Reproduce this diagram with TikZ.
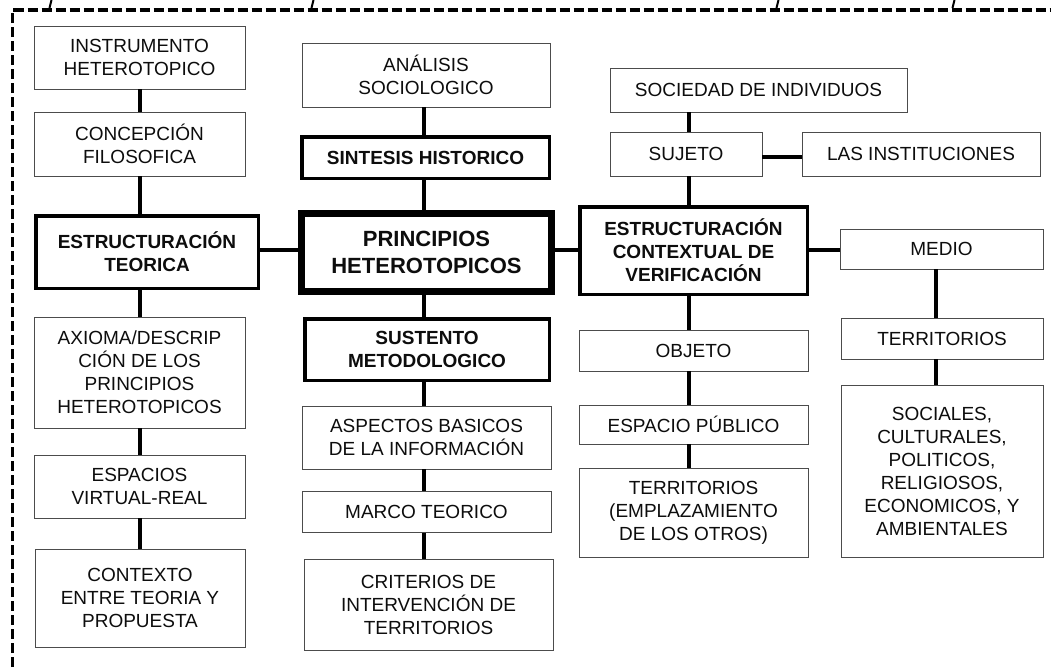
\documentclass[tikz,border=0pt]{standalone}
\usepackage{fontspec}
\setmainfont{Liberation Sans}
\begin{document}
\begin{tikzpicture}[x=1pt,y=-1pt,
  plainbox/.style={draw=black!70, line width=0.9pt, fill=white, inner sep=0pt, align=center,
    text=black!95, font=\fontsize{19}{23}\selectfont},
  boldbox/.style={draw=black, line width=3.5pt, fill=white, inner sep=0pt, align=center,
    text=black!95, font=\fontsize{19}{23}\selectfont\bfseries},
  mainbox/.style={draw=black, line width=7pt, fill=white, inner sep=0pt, align=center,
    text=black!95, font=\fontsize{22}{27}\selectfont\bfseries},
  conn/.style={draw=black, line width=4.5pt},
  frame/.style={draw=black, line width=3.5pt, dash pattern=on 10pt off 4pt},
  tick/.style={draw=black, line width=2pt}]
\useasboundingbox (0,0) rectangle (1051,667);
\fill[white] (0,0) rectangle (1051,667);
% frame
\draw[frame] (12.5,667) -- (12.5,10) -- (1051,10);
\draw[tick] (51.5,0) -- (49.5,8);
\draw[tick] (313.5,0) -- (311.5,8);
\draw[tick] (778.5,0) -- (776.5,8);
\draw[tick] (954.5,0) -- (952.5,8);
% helper coordinates
\coordinate (xl) at (140,0);
\coordinate (xm) at (424,0);
\coordinate (xc) at (689,0);
\coordinate (xr) at (936,0);
\coordinate (yh) at (0,250);
\coordinate (ys) at (0,157);
% left column
\node[plainbox, minimum width=211, minimum height=63] (inst) at (139.5,57.5) {INSTRUMENTO\\HETEROTOPICO};
\node[plainbox, minimum width=211, minimum height=64] (conc) at (139.5,144) {CONCEPCIÓN\\FILOSOFICA};
\node[boldbox, minimum width=222.5, minimum height=72.5] (estT) at (147,252) {ESTRUCTURACIÓN\\TEORICA};
\node[plainbox, minimum width=211, minimum height=111] (axioma) at (139.5,372.5) {AXIOMA/DESCRIP\\CIÓN DE LOS\\PRINCIPIOS\\HETEROTOPICOS};
\node[plainbox, minimum width=211, minimum height=63] (espacios) at (139.5,486.5) {ESPACIOS\\VIRTUAL-REAL};
\node[plainbox, minimum width=210, minimum height=98] (contexto) at (140,598) {CONTEXTO\\ENTRE TEORIA Y\\PROPUESTA};
% middle column
\node[plainbox, minimum width=248, minimum height=64] (analisis) at (426,75) {ANÁLISIS\\SOCIOLOGICO};
\node[boldbox, minimum width=247.5, minimum height=41.5] (sintesis) at (425.5,157.5) {SINTESIS HISTORICO};
\node[mainbox, minimum width=250, minimum height=78] (principios) at (426.5,252.5) {PRINCIPIOS\\HETEROTOPICOS};
\node[boldbox, minimum width=244.5, minimum height=61.5] (sustento) at (427,349.5) {SUSTENTO\\METODOLOGICO};
\node[plainbox, minimum width=249, minimum height=63] (aspectos) at (426.5,437.5) {ASPECTOS BASICOS\\DE LA INFORMACIÓN};
\node[plainbox, minimum width=249, minimum height=41] (marco) at (426.5,512) {MARCO TEORICO};
\node[plainbox, minimum width=249, minimum height=91] (criterios) at (428.5,604.5) {CRITERIOS DE\\INTERVENCIÓN DE\\TERRITORIOS};
% right-centre column
\node[plainbox, minimum width=297, minimum height=44] (sociedad) at (758.5,90) {SOCIEDAD DE INDIVIDUOS};
\node[plainbox, minimum width=152, minimum height=44] (sujeto) at (686,154) {SUJETO};
\node[plainbox, minimum width=238, minimum height=44] (instit) at (921,154) {LAS INSTITUCIONES};
\node[boldbox, minimum width=227.5, minimum height=87.5] (estC) at (693.5,250.5) {ESTRUCTURACIÓN\\CONTEXTUAL DE\\VERIFICACIÓN};
\node[plainbox, minimum width=229, minimum height=41] (objeto) at (693.5,350.5) {OBJETO};
\node[plainbox, minimum width=229, minimum height=39] (publico) at (693.5,424.5) {ESPACIO PÚBLICO};
\node[plainbox, minimum width=229, minimum height=89] (emplaz) at (693.5,512.5) {TERRITORIOS\\(EMPLAZAMIENTO\\DE LOS OTROS)};
% right column
\node[plainbox, minimum width=203, minimum height=40] (medio) at (941.5,249) {MEDIO};
\node[plainbox, minimum width=202, minimum height=41] (territ) at (942,338.5) {TERRITORIOS};
\node[plainbox, minimum width=202, minimum height=172] (sociales) at (942,471) {SOCIALES,\\CULTURALES,\\POLITICOS,\\RELIGIOSOS,\\ECONOMICOS, Y\\AMBIENTALES};
% connectors: left column
\draw[conn] (inst.south -| xl) -- (conc.north -| xl);
\draw[conn] (conc.south -| xl) -- (estT.north -| xl);
\draw[conn] (estT.south -| xl) -- (axioma.north -| xl);
\draw[conn] (axioma.south -| xl) -- (espacios.north -| xl);
\draw[conn] (espacios.south -| xl) -- (contexto.north -| xl);
% middle column
\draw[conn] (analisis.south -| xm) -- (sintesis.north -| xm);
\draw[conn] (sintesis.south -| xm) -- (principios.north -| xm);
\draw[conn] (principios.south -| xm) -- (sustento.north -| xm);
\draw[conn] (sustento.south -| xm) -- (aspectos.north -| xm);
\draw[conn] (aspectos.south -| xm) -- (marco.north -| xm);
\draw[conn] (marco.south -| xm) -- (criterios.north -| xm);
% horizontals
\draw[conn] (estT.east |- yh) -- (principios.west |- yh);
\draw[conn] (principios.east |- yh) -- (estC.west |- yh);
\draw[conn] (estC.east |- yh) -- (medio.west |- yh);
\draw[conn] (sujeto.east |- ys) -- (instit.west |- ys);
% right-centre column
\draw[conn] (sociedad.south -| xc) -- (sujeto.north -| xc);
\draw[conn] (sujeto.south -| xc) -- (estC.north -| xc);
\draw[conn] (estC.south -| xc) -- (objeto.north -| xc);
\draw[conn] (objeto.south -| xc) -- (publico.north -| xc);
\draw[conn] (publico.south -| xc) -- (emplaz.north -| xc);
% right column
\draw[conn] (medio.south -| xr) -- (territ.north -| xr);
\draw[conn] (territ.south -| xr) -- (sociales.north -| xr);
\end{tikzpicture}
\end{document}
